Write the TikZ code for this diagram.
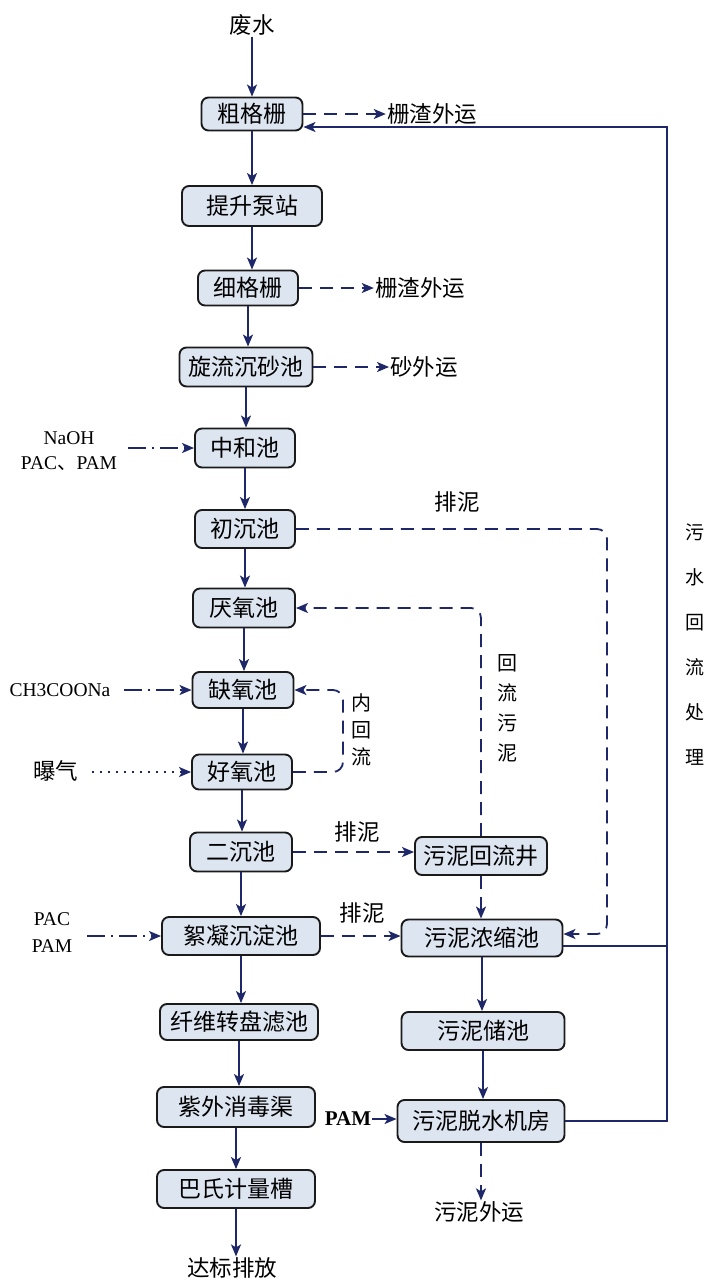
\documentclass[tikz,border=0pt]{standalone}
\usepackage{fontspec}
\setmainfont{Liberation Serif}
\newfontfamily\cjk{Noto Sans CJK SC}
\usetikzlibrary{arrows.meta,calc}
\definecolor{lineblue}{HTML}{1E2868}
\definecolor{boxfill}{HTML}{DDE5F1}
\definecolor{boxline}{HTML}{1A1A1A}
\begin{document}
\begin{tikzpicture}[x=1pt,y=-1pt,
  box/.style={draw=boxline, line width=1.9pt, fill=boxfill, rounded corners=7pt, inner sep=0pt, font=\cjk\fontsize{23}{27}\selectfont},
  lbl/.style={font=\cjk\fontsize{22.5}{26}\selectfont, inner sep=1pt},
  vlbl/.style={font=\cjk\fontsize{20}{#1}\selectfont, align=center, inner sep=1pt},
  lat/.style={font=\fontsize{19.5}{#1}\selectfont, align=center, inner sep=1pt},
  flow/.style={draw=lineblue, line width=1.8pt, -{Stealth[length=12pt,width=10pt,inset=3pt]}},
  dflow/.style={flow, dash pattern=on 13pt off 8pt},
  ddflow/.style={flow, dash pattern=on 18pt off 6pt on 2pt off 6pt},
  dotflow/.style={flow, dash pattern=on 2pt off 6pt},
  wire/.style={draw=lineblue, line width=1.8pt}]
\fill[white] (0,0) rectangle (710,1283);
\useasboundingbox (0,0) rectangle (710,1283);

% main column
\node[lbl] (fs) at (252,25) {废水};
\node[box, minimum width=101pt, minimum height=33pt] (cgs) at (252,114) {粗格栅};
\node[box, minimum width=140pt, minimum height=40pt] (tsbz) at (252,206) {提升泵站};
\node[box, minimum width=100pt, minimum height=35pt] (xgs) at (248,288) {细格栅};
\node[box, minimum width=133pt, minimum height=39pt] (xlcs) at (246,367) {旋流沉砂池};
\node[box, minimum width=100pt, minimum height=39pt] (zhc) at (245,448) {中和池};
\node[box, minimum width=100pt, minimum height=38pt] (ccc) at (245,529) {初沉池};
\node[box, minimum width=102pt, minimum height=39pt] (yyc) at (244,608) {厌氧池};
\node[box, minimum width=101pt, minimum height=36pt] (qyc) at (243,690) {缺氧池};
\node[box, minimum width=100pt, minimum height=35pt] (hyc) at (242,772) {好氧池};
\node[box, minimum width=102pt, minimum height=39pt] (ecc) at (241,852) {二沉池};
\node[box, minimum width=158pt, minimum height=38pt] (xnc) at (241,936) {絮凝沉淀池};
\node[box, minimum width=158pt, minimum height=36pt] (xw) at (239,1022) {纤维转盘滤池};
\node[box, minimum width=158pt, minimum height=40pt] (zw) at (236,1107) {紫外消毒渠};
\node[box, minimum width=158pt, minimum height=38pt] (bs) at (236,1189) {巴氏计量槽};
\node[lbl] (dbpf) at (232,1268) {达标排放};

% sludge column
\node[box, minimum width=132pt, minimum height=38pt] (wnhl) at (481,856) {污泥回流井};
\node[box, minimum width=161pt, minimum height=37pt] (wnns) at (482,938) {污泥浓缩池};
\node[box, minimum width=163pt, minimum height=38pt] (wncc) at (483,1031) {污泥储池};
\node[box, minimum width=167pt, minimum height=42pt] (wntsj) at (481,1121) {污泥脱水机房};
\node[lbl] (wnwy) at (479,1212) {污泥外运};

% side labels
\node[lbl] (zz1) at (432,114) {栅渣外运};
\node[lbl] (zz2) at (420,288) {栅渣外运};
\node[lbl] (swy) at (424,367) {砂外运};
\node[lbl] (pn1) at (457,502) {排泥};
\node[lbl] (pn2) at (357,832) {排泥};
\node[lbl] (pn3) at (362,913) {排泥};
\node[vlbl=30] (hlwn) at (507,708) {回\\流\\污\\泥};
\node[vlbl=27] (nhl) at (361,730) {内\\回\\流};
\node[font=\cjk\fontsize{19}{45}\selectfont, align=center, inner sep=1pt] (wshl) at (695,645) {污\\水\\回\\流\\处\\理};

\node[lat=25] (naoh) at (69,451) {NaOH\\PAC{\cjk 、}PAM};
\node[lat=22] (ch3) at (60,690) {CH3COONa};
\node[lbl] (bq) at (56,771) {曝气};
\node[lat=27] (pacpam) at (52,933) {PAC\\PAM};
\node[font=\bfseries\fontsize{21}{25}\selectfont, inner sep=1pt] (pam) at (348,1119) {PAM};

% main flow
\draw[flow] (fs) -- (cgs);
\foreach \a/\b in {cgs/tsbz,tsbz/xgs,xgs/xlcs,xlcs/zhc,zhc/ccc,ccc/yyc,yyc/qyc,qyc/hyc,hyc/ecc,ecc/xnc,xnc/xw,xw/zw,zw/bs,bs/dbpf}
  \draw[flow] (\a.south) -- (\a.south |- \b.north);

% discharges
\draw[dflow] (cgs.east) -- (cgs.east -| zz1.west);
\draw[dflow] (xgs.east) -- (xgs.east -| zz2.west);
\draw[dflow] (xlcs.east) -- (xlcs.east -| swy.west);

% dosing
\draw[ddflow] ($(naoh.east |- zhc.west)+(10,0)$) -- (zhc.west);
\draw[ddflow] ($(ch3.east |- qyc.west)+(12,0)$) -- (qyc.west);
\draw[dotflow] ($(bq.east |- hyc.west)+(12,0)$) -- (hyc.west);
\draw[ddflow] ($(pacpam.east |- xnc.west)+(14,0)$) -- (xnc.west);
\draw[flow] (pam.east) -- (pam.east -| wntsj.west);

% sludge lines
\coordinate (rx1) at (607,700);
\coordinate (nx) at (343,730);
\coordinate (rt) at (667,600);
\coordinate (nsin) at ($(wnns.east)+(0,-4)$);
\coordinate (nsout) at ($(wnns.east)+(0,8)$);
\coordinate (cgsin) at ($(cgs.east)+(0,13)$);

\draw[dflow, rounded corners=10pt] (ccc.east) -| (rx1) |- (nsin);
\draw[dflow, rounded corners=10pt] (wnhl.north) |- (yyc.east);
\draw[dflow, rounded corners=10pt] (hyc.east) -| (nx) |- (qyc.east);
\draw[dflow] (ecc.east) -- (ecc.east -| wnhl.west);
\draw[dflow] (xnc.east) -- (xnc.east -| wnns.west);
\draw[dflow] (wnhl.south) -- (wnhl.south |- wnns.north);
\draw[flow] (wnns.south) -- (wnns.south |- wncc.north);
\draw[flow] (wncc.south) -- (wncc.south |- wntsj.north);
\draw[dflow] (wntsj.south) -- (wntsj.south |- wnwy.north);

% return water
\draw[wire] (nsout) -- (nsout -| rt);
\draw[flow] (wntsj.east) -| (rt) |- (cgsin);
\end{tikzpicture}
\end{document}
